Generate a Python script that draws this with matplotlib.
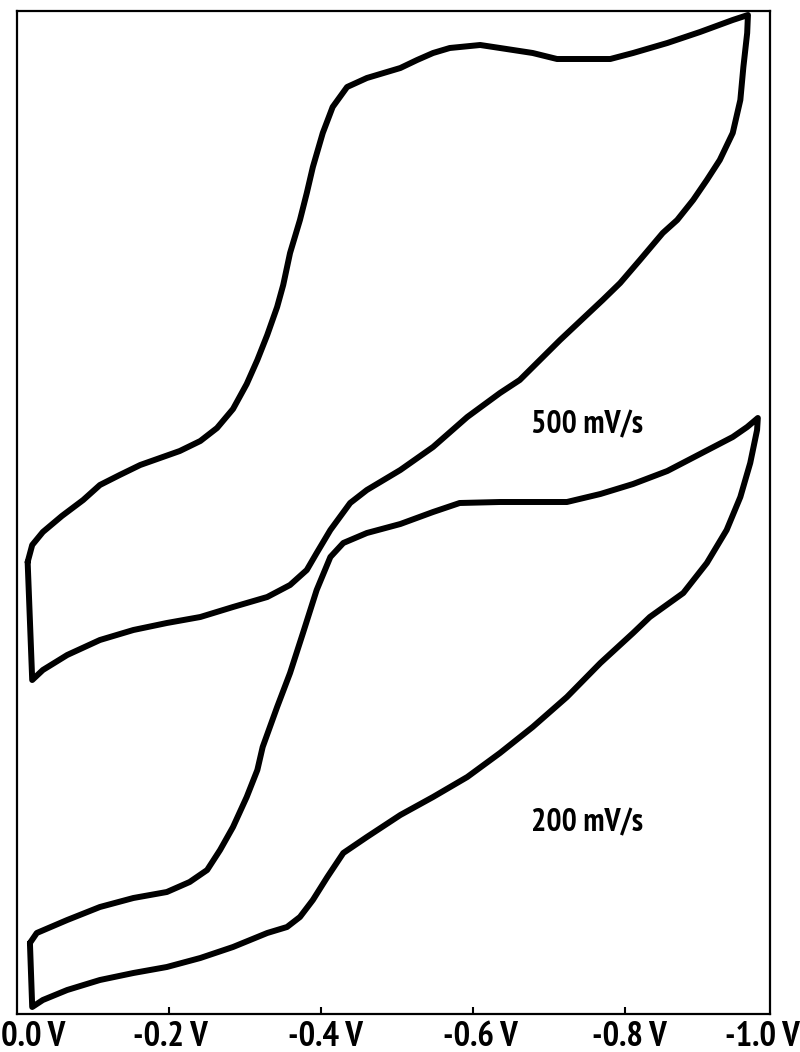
#cyclic voltammograms of the same film at two scan rates (500 and 200 mV/s)
#potential runs from 0.0 V to -1.0 V, current has no scale in the original

import matplotlib.pyplot as plt
import matplotlib.transforms as mtransforms

#500 mV/s loop (V, relative current)
v500 = [-0.014, -0.020, -0.034, -0.059, -0.087, -0.109, -0.135, -0.162, -0.188, -0.214,
        -0.241, -0.263, -0.284, -0.302, -0.316, -0.329, -0.342, -0.350, -0.359, -0.372,
        -0.381, -0.389, -0.402, -0.415, -0.434, -0.460, -0.504, -0.526, -0.547, -0.569,
        -0.609, -0.635, -0.678, -0.710, -0.780, -0.810, -0.855, -0.898, -0.941, -0.961,
        -0.960, -0.955, -0.951, -0.941, -0.924, -0.907, -0.889, -0.868, -0.849, -0.819,
        -0.793, -0.770, -0.714, -0.661, -0.635, -0.592, -0.547, -0.504, -0.460, -0.438,
        -0.412, -0.394, -0.381, -0.359, -0.329, -0.284, -0.241, -0.197, -0.153, -0.109,
        -0.066, -0.034, -0.020, -0.014]
i500 = [45.2, 46.9, 48.2, 49.8, 51.4, 52.9, 53.9, 54.9, 55.6, 56.3,
        57.3, 58.6, 60.5, 63.0, 65.4, 67.9, 70.7, 72.9, 76.1, 79.4,
        82.1, 84.7, 88.1, 90.7, 92.7, 93.6, 94.6, 95.4, 96.1, 96.6,
        96.9, 96.6, 96.1, 95.5, 95.5, 96.1, 97.1, 98.2, 99.4, 99.9,
        98.1, 94.7, 91.4, 88.1, 85.4, 83.4, 81.4, 79.4, 78.1, 75.4,
        73.1, 71.4, 67.4, 63.4, 62.1, 59.7, 56.7, 54.4, 52.4, 51.1,
        48.4, 46.1, 44.4, 42.9, 41.7, 40.7, 39.7, 39.1, 38.4, 37.4,
        35.9, 34.4, 33.4, 45.2]

#200 mV/s loop
v200 = [-0.017, -0.026, -0.066, -0.109, -0.153, -0.197, -0.227, -0.250, -0.267, -0.284,
        -0.302, -0.316, -0.323, -0.342, -0.359, -0.376, -0.394, -0.412, -0.429, -0.460,
        -0.504, -0.547, -0.582, -0.635, -0.723, -0.767, -0.810, -0.855, -0.898, -0.941,
        -0.960, -0.974,
        -0.973, -0.964, -0.951, -0.933, -0.907, -0.876, -0.832, -0.810, -0.767, -0.723,
        -0.678, -0.635, -0.592, -0.547, -0.504, -0.460, -0.429, -0.408, -0.389, -0.372,
        -0.355, -0.329, -0.284, -0.241, -0.197, -0.153, -0.109, -0.066, -0.034, -0.020,
        -0.017]
i200 = [7.1, 8.1, 9.4, 10.7, 11.6, 12.2, 13.2, 14.4, 16.4, 18.7,
        21.7, 24.4, 26.7, 30.7, 34.1, 38.1, 42.4, 45.7, 47.1, 48.1,
        49.0, 50.2, 51.1, 51.2, 51.2, 52.0, 53.0, 54.3, 56.0, 57.7,
        58.7, 59.6,
        58.4, 55.1, 51.7, 48.4, 45.1, 42.1, 39.7, 38.1, 35.1, 31.7,
        28.7, 26.1, 23.7, 21.7, 19.9, 17.7, 16.1, 13.7, 11.4, 9.7,
        8.7, 8.1, 6.7, 5.6, 4.7, 4.1, 3.4, 2.4, 1.4, 0.7,
        7.1]

tick_vals = [0.0, -0.2, -0.4, -0.6, -0.8, -1.0]
tick_labels = ["0.0 V", "-0.2 V", "-0.4 V", "-0.6 V", "-0.8 V", "-1.0 V"]

rate_labels = ["500 mV/s", "200 mV/s"]
rate_label_pos = [(-0.749, 58.9), (-0.749, 19.1)]

#narrow bold face, close to the old plotter lettering
font = ["PT Sans Narrow", "DejaVu Sans"]

fig = plt.figure(figsize=(8, 10.52), dpi=100)
ax = fig.add_axes([17 / 800, 38 / 1052, 753 / 800, 1003 / 1052])

ax.plot(v500, i500, color="black", lw=4.3, solid_joinstyle="round", solid_capstyle="round")
ax.plot(v200, i200, color="black", lw=4.3, solid_joinstyle="round", solid_capstyle="round")

ax.set_xlim(0.0, -0.99)
ax.set_ylim(0, 100.3)

for s in ax.spines.values():
    s.set_linewidth(1.6)

ax.set_yticks([])
ax.set_xticks(tick_vals[1:-1])
ax.set_xticklabels([])
ax.tick_params(axis="x", direction="in", length=5, width=1.5)

#tick labels drawn by hand, the edge ones are pulled inside the frame
trans = mtransforms.blended_transform_factory(ax.transData, ax.transAxes)
shift = [11.5, 1, 3, 5, 3, -11]
for v, lab, dx in zip(tick_vals, tick_labels, shift):
    t = mtransforms.offset_copy(trans, fig=fig, x=dx, y=0, units="points")
    ax.text(v, -0.007, lab, transform=t, ha="center", va="top",
            fontsize=25, fontweight="bold", family=font, clip_on=False)

for lab, (x, y) in zip(rate_labels, rate_label_pos):
    ax.text(x, y, lab, ha="center", va="center", fontsize=23,
            fontweight="bold", family=font)

plt.savefig("out.png", dpi=100)
